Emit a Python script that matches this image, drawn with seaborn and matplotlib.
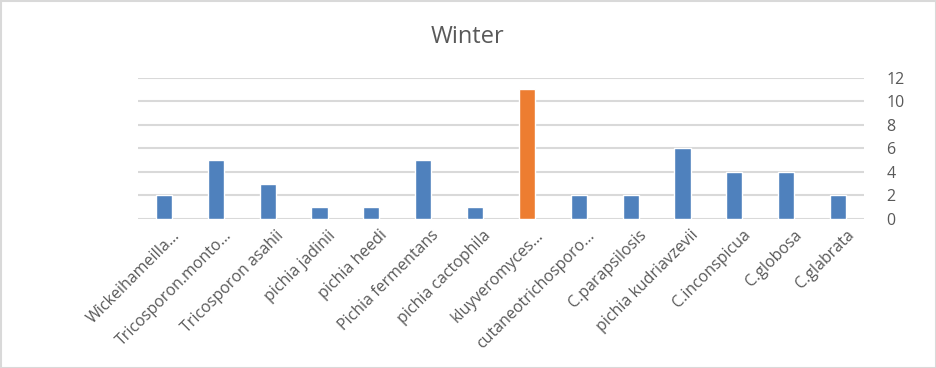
import matplotlib
matplotlib.use("Agg")
import matplotlib.pyplot as plt
import matplotlib.transforms as mtrans
import seaborn as sns
import pandas as pd
from matplotlib.patches import Rectangle

species = ["Wickeihameilla...", "Tricosporon.monto...", "Tricosporon asahii",
           "pichia jadinii", "pichia heedi", "Pichia fermentans", "pichia cactophila",
           "kluyveromyces...", "cutaneotrichosporo...", "C.parapsilosis",
           "pichia kudriavzevii", "C.inconspicua", "C.globosa", "C.glabrata"]
counts = [2, 5, 3, 1, 1, 5, 1, 11, 2, 2, 6, 4, 4, 2]
highlight = ["no"] * 7 + ["yes"] + ["no"] * 6
y_ticks = [0, 2, 4, 6, 8, 10, 12]

df = pd.DataFrame({"species": species, "count": counts, "hl": highlight})

sns.set_theme(style="white")
plt.rcParams['font.family'] = ['Open Sans', 'DejaVu Sans']

fig = plt.figure(figsize=(9.36, 3.68), dpi=100)
ax = fig.add_axes([138/936, 1 - 219/368, (864-138)/936, (219-77.5)/368])

sns.barplot(data=df, x="species", y="count", hue="hl",
            palette={"no": "#4f81bd", "yes": "#ed7d31"},
            width=0.31, dodge=False, legend=False, ax=ax, saturation=1)

ax.set_ylim(0, 12)
ax.set_yticks(y_ticks)
ax.yaxis.tick_right()
ax.tick_params(axis="y", length=0, pad=16, labelsize=11.5, labelcolor="#595959")
ax.tick_params(axis="x", length=0, pad=6, labelsize=11.5, labelcolor="#595959")
ax.set_xticks(range(len(species)))
ax.set_xticklabels(species, rotation=45, ha="right", rotation_mode="anchor")
offset = mtrans.ScaledTranslation(8/100, 0, fig.dpi_scale_trans)
for lab in ax.get_xticklabels():
    lab.set_transform(lab.get_transform() + offset)
ax.grid(axis="y", color="#d9d9d9", linewidth=1.5)
ax.set_axisbelow(True)
for s in ax.spines.values():
    s.set_visible(False)
ax.set_xlabel("")
ax.set_ylabel("")
ax.set_xlim(-0.5, len(species) - 0.5)

fig.text(0.5, 1 - 37/368, "Winter", ha="center", va="center",
         fontsize=17, color="#595959")
fig.patches.append(Rectangle((0.5/936, 0.5/368), 1 - 1/936, 1 - 1/368,
                             transform=fig.transFigure, fill=False,
                             edgecolor="#d9d9d9", linewidth=1.5))

fig.savefig("out.png", dpi=100)
